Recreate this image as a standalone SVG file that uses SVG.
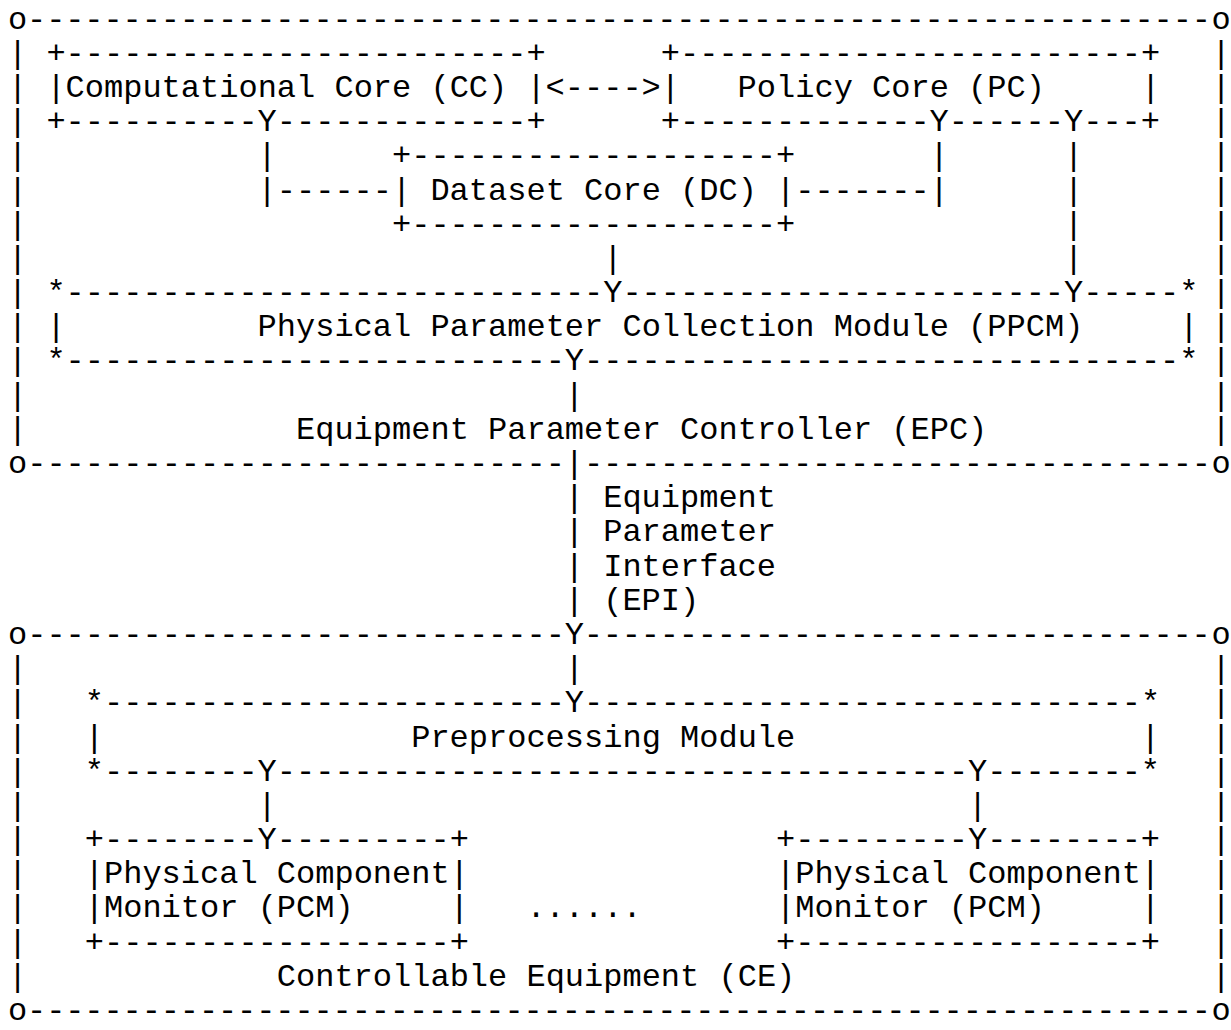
<svg xmlns="http://www.w3.org/2000/svg" width="1231" height="1030" viewBox="0 0 1231 1030" xml:space="preserve">
<style>
.t{font-family:"Liberation Mono","Courier New",monospace;font-size:32px;fill:#000;white-space:pre}
</style>
<rect width="1231" height="1030" fill="#fff"/>
<g id="epc">
<text class="t" x="8" y="28.5" textLength="1203" lengthAdjust="spacing">o--------------------------------------------------------------</text>
<text class="t" x="1211.5" y="28.5">o</text>
<text class="t"><tspan x="8" y="62.7">|</tspan><tspan x="8" y="96.9">|</tspan><tspan x="8" y="131.1">|</tspan><tspan x="8" y="165.3">|</tspan><tspan x="8" y="199.5">|</tspan><tspan x="8" y="233.6">|</tspan><tspan x="8" y="267.8">|</tspan><tspan x="8" y="302">|</tspan><tspan x="8" y="336.2">|</tspan><tspan x="8" y="370.4">|</tspan><tspan x="8" y="404.6">|</tspan><tspan x="8" y="438.8">|</tspan></text>
<text class="t"><tspan x="1211.5" y="62.7">|</tspan><tspan x="1211.5" y="96.9">|</tspan><tspan x="1211.5" y="131.1">|</tspan><tspan x="1211.5" y="165.3">|</tspan><tspan x="1211.5" y="199.5">|</tspan><tspan x="1211.5" y="233.6">|</tspan><tspan x="1211.5" y="267.8">|</tspan><tspan x="1211.5" y="302">|</tspan><tspan x="1211.5" y="336.2">|</tspan><tspan x="1211.5" y="370.4">|</tspan><tspan x="1211.5" y="404.6">|</tspan><tspan x="1211.5" y="438.8">|</tspan></text>
<text class="t" x="296" y="438.8">Equipment Parameter Controller (EPC)</text>
<text class="t" x="8" y="473">o----------------------------</text>
<text class="t" x="584" y="473" textLength="627" lengthAdjust="spacing">---------------------------------</text>
<text class="t" x="1211.5" y="473">o</text>
</g>
<g id="cc">
<text class="t" x="46.4" y="62.7">+------------------------+</text>
<text class="t" x="46.4" y="96.9">|Computational Core (CC) |</text>
<text class="t" x="46.4" y="131.1">+----------</text>
<text class="t" x="257.6" y="131.1">Y-------------+</text>
</g>
<g id="pc">
<text class="t" x="660.8" y="62.7">+------------------------+</text>
<text class="t" x="660.8" y="96.9">|   Policy Core (PC)     |</text>
<text class="t" x="660.8" y="131.1">+-------------</text>
<text class="t" x="929.6" y="131.1">Y------</text>
<text class="t" x="1064" y="131.1">Y---+</text>
</g>
<g id="dc">
<text class="t" x="392" y="165.3">+-------------------+</text>
<text class="t" x="392" y="199.5">| Dataset Core (DC) |</text>
<text class="t" x="392" y="233.6">+-------------------+</text>
</g>
<g id="ppcm">
<text class="t" x="46.4" y="302">*----------------------------</text>
<text class="t" x="603.2" y="302">Y-----------------------</text>
<text class="t" x="1064" y="302">Y-----*</text>
<text class="t" x="46.4" y="336.2">|</text>
<text class="t" x="257.6" y="336.2">Physical Parameter Collection Module (PPCM)</text>
<text class="t" x="1179.2" y="336.2">|</text>
<text class="t" x="46.4" y="370.4">*--------------------------</text>
<text class="t" x="564.8" y="370.4">Y-------------------------------*</text>
</g>
<g id="ce">
<text class="t" x="8" y="643.9">o----------------------------</text>
<text class="t" x="564.8" y="643.9" textLength="646" lengthAdjust="spacing">Y---------------------------------</text>
<text class="t" x="1211.5" y="643.9">o</text>
<text class="t"><tspan x="8" y="678.1">|</tspan><tspan x="8" y="712.3">|</tspan><tspan x="8" y="746.5">|</tspan><tspan x="8" y="780.7">|</tspan><tspan x="8" y="814.9">|</tspan><tspan x="8" y="849.1">|</tspan><tspan x="8" y="883.3">|</tspan><tspan x="8" y="917.4">|</tspan><tspan x="8" y="951.6">|</tspan><tspan x="8" y="985.8">|</tspan></text>
<text class="t"><tspan x="1211.5" y="678.1">|</tspan><tspan x="1211.5" y="712.3">|</tspan><tspan x="1211.5" y="746.5">|</tspan><tspan x="1211.5" y="780.7">|</tspan><tspan x="1211.5" y="814.9">|</tspan><tspan x="1211.5" y="849.1">|</tspan><tspan x="1211.5" y="883.3">|</tspan><tspan x="1211.5" y="917.4">|</tspan><tspan x="1211.5" y="951.6">|</tspan><tspan x="1211.5" y="985.8">|</tspan></text>
<text class="t" x="276.8" y="985.8">Controllable Equipment (CE)</text>
<text class="t" x="8" y="1020" textLength="1203" lengthAdjust="spacing">o--------------------------------------------------------------</text>
<text class="t" x="1211.5" y="1020">o</text>
</g>
<g id="preprocessing">
<text class="t" x="84.8" y="712.3">*------------------------</text>
<text class="t" x="564.8" y="712.3">Y-----------------------------*</text>
<text class="t" x="84.8" y="746.5">|</text>
<text class="t" x="411.2" y="746.5">Preprocessing Module</text>
<text class="t" x="1140.8" y="746.5">|</text>
<text class="t" x="84.8" y="780.7">*--------</text>
<text class="t" x="257.6" y="780.7">Y------------------------------------</text>
<text class="t" x="968" y="780.7">Y--------*</text>
</g>
<g id="pcm1">
<text class="t" x="84.8" y="849.1">+--------</text>
<text class="t" x="257.6" y="849.1">Y---------+</text>
<text class="t" x="84.8" y="883.3">|Physical Component|</text>
<text class="t" x="84.8" y="917.4">|Monitor (PCM)     |</text>
<text class="t" x="84.8" y="951.6">+------------------+</text>
</g>
<g id="ellipsis">
<text class="t" x="526.4" y="917.4">......</text>
</g>
<g id="pcm2">
<text class="t" x="776" y="849.1">+---------</text>
<text class="t" x="968" y="849.1">Y--------+</text>
<text class="t" x="776" y="883.3">|Physical Component|</text>
<text class="t" x="776" y="917.4">|Monitor (PCM)     |</text>
<text class="t" x="776" y="951.6">+------------------+</text>
</g>
<g id="connectors">
<text class="t" x="545.6" y="96.9">&lt;----&gt;</text>
<text class="t"><tspan x="257.6" y="165.3">|</tspan><tspan x="257.6" y="199.5">|</tspan></text>
<text class="t" x="276.8" y="199.5">------</text>
<text class="t" x="795.2" y="199.5">-------</text>
<text class="t"><tspan x="929.6" y="165.3">|</tspan><tspan x="929.6" y="199.5">|</tspan></text>
<text class="t"><tspan x="1064" y="165.3">|</tspan><tspan x="1064" y="199.5">|</tspan><tspan x="1064" y="233.6">|</tspan><tspan x="1064" y="267.8">|</tspan></text>
<text class="t" x="603.2" y="267.8">|</text>
<text class="t" x="564.8" y="404.6">|</text>
<text class="t" x="564.8" y="473">|</text>
<text class="t"><tspan x="564.8" y="507.2">|</tspan><tspan x="564.8" y="541.4">|</tspan><tspan x="564.8" y="575.5">|</tspan><tspan x="564.8" y="609.7">|</tspan></text>
<text class="t"><tspan x="603.2" y="507.2">Equipment</tspan><tspan x="603.2" y="541.4">Parameter</tspan><tspan x="603.2" y="575.5">Interface</tspan><tspan x="603.2" y="609.7">(EPI)</tspan></text>
<text class="t" x="564.8" y="678.1">|</text>
<text class="t"><tspan x="257.6" y="814.9">|</tspan><tspan x="968" y="814.9">|</tspan></text>
</g>
</svg>
